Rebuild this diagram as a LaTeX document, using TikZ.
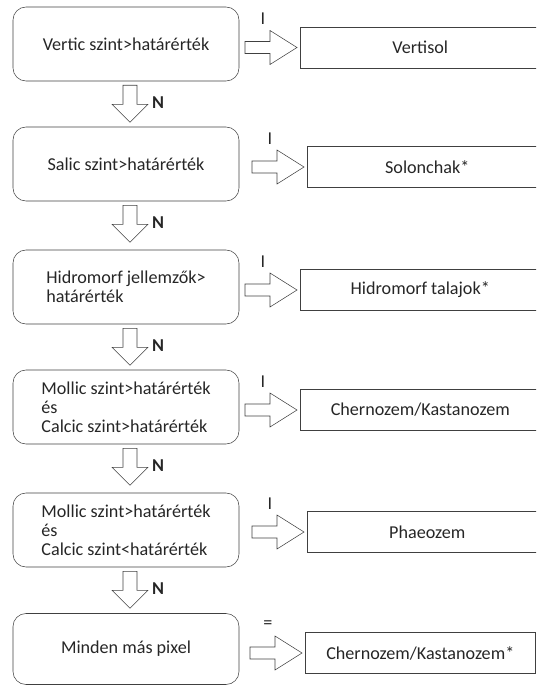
\documentclass[tikz,border=0pt]{standalone}
\usepackage{fontspec}
\setmainfont{Carlito}
\usetikzlibrary{calc}

\newcommand{\boxfont}{\fontsize{13.6}{14.25}\selectfont}

\tikzset{
  cond/.style={draw=black!75, rounded corners=9.75pt, minimum width=169.5pt,
    minimum height=55.5pt, align=left, inner sep=0pt},
  result/.style={draw=black!75, minimum width=180pt, minimum height=30.75pt,
    inner sep=0pt, anchor=west},
  lab/.style={inner sep=0pt},
  % block arrows
  goright/.pic={\draw[black!75] (0,-6) -- (25,-6) -- (25,-17) -- (52,0)
    -- (25,17) -- (25,6) -- (0,6) -- cycle;},
  godown/.pic={\draw[black!75] (-7,0) -- (-7,19) -- (-18,19) -- (0,37)
    -- (18,19) -- (7,19) -- (7,0) -- cycle;}
}

\begin{document}
\begin{tikzpicture}[x=0.75pt, y=-0.75pt, font=\boxfont, text=black!85]
  \useasboundingbox (0,0) rectangle (536,685);
  \clip (0,0) rectangle (536,685);

  % conditions
  \node[cond] (c1) at (126,44) {Vertic szint>határérték};
  \node[cond] (c2) at (126,164) {Salic szint>határérték};
  \node[cond] (c3) at (126,287) {Hidromorf jellemzők>\\határérték};
  \node[cond] (c4) at (126,407) {Mollic szint>határérték\\és\\Calcic szint>határérték};
  \node[cond] (c5) at (126,530) {Mollic szint>határérték\\és\\Calcic szint<határérték};
  \node[cond, minimum height=53.25pt] (c6) at (126,649) {Minden más pixel};

  % soil groups
  \node[result] (r1) at (300,47.5) {Vertisol};
  \node[result] (r2) at (307,167) {Solonchak*};
  \node[result] (r3) at (300,290) {Hidromorf talajok*};
  \node[result] (r4) at (300,410) {Chernozem/Kastanozem};
  \node[result] (r5) at (307,532) {Phaeozem};
  \node[result, minimum width=172.5pt] (r6) at (305,653) {Chernozem/Kastanozem*};

  % N: next condition
  \foreach \i in {1,...,5} {
    \pic at ($(c\i.south)+(4,4)$) {godown};
    \node[lab, font=\boxfont\bfseries] (n\i) at ($(c\i.south)+(32,21)$) {N};
  }
  % I: soil group found
  \foreach \i/\a in {1/I,2/I,3/I,4/I,5/I,6/=} {
    \pic at ($(r\i.west)+(-55,0)$) {goright};
    \node[lab] (a\i) at ($(r\i.north west)+(-37,-8)$) {\a};
  }
\end{tikzpicture}
\end{document}
